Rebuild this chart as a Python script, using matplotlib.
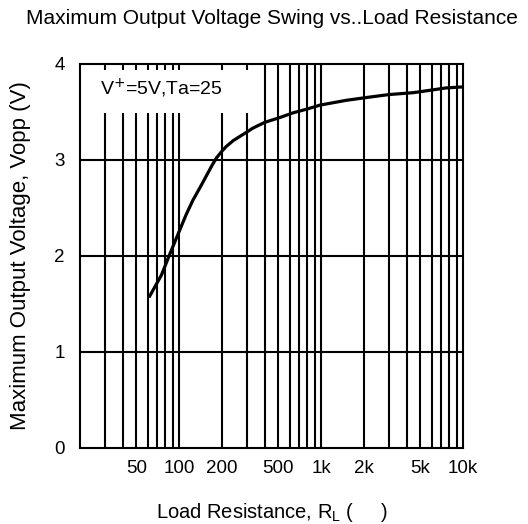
import matplotlib
matplotlib.use('Agg')
import matplotlib.pyplot as plt
from matplotlib.patches import Rectangle
from matplotlib.ticker import FixedLocator, NullFormatter

plt.rcParams['font.family'] = ['Liberation Sans', 'DejaVu Sans']

# curve (load resistance in ohms, output swing in V)
r_load = [62, 75, 86, 101, 112, 125, 140, 155, 170, 183, 200, 215, 240, 265,
          300, 330, 400, 510, 635, 800, 980, 1500, 2100, 3000, 4470, 7660, 10000]
v_opp = [1.58, 1.80, 2.02, 2.27, 2.43, 2.58, 2.71, 2.83, 2.94, 3.02, 3.09, 3.14,
         3.20, 3.24, 3.29, 3.33, 3.39, 3.44, 3.49, 3.53, 3.57, 3.62, 3.65, 3.68,
         3.70, 3.75, 3.76]

x_ticks = [50, 100, 200, 500, 1000, 2000, 5000, 10000]
x_ticklabels = ['50', '100', '200', '500', '1k', '2k', '5k', '10k']
x_grid = [30, 40, 50, 60, 70, 80, 90,
          100, 200, 300, 400, 500, 600, 700, 800, 900,
          1000, 2000, 3000, 4000, 5000, 6000, 7000, 8000, 9000]
y_ticks = [0, 1, 2, 3, 4]

fig = plt.figure(figsize=(5.28, 5.24), dpi=100)
ax = fig.add_axes([0.1515, 0.1456, 0.7255, 0.7325])

ax.set_xscale('log')
ax.set_xlim(20, 10000)
ax.set_ylim(0, 4)

# grid drawn by hand so every decade line shows
for gx in x_grid:
    ax.axvline(gx, color='black', lw=1.5, zorder=1)
for gy in y_ticks[1:-1]:
    ax.axhline(gy, color='black', lw=1.5, zorder=1)

ax.xaxis.set_major_locator(FixedLocator(x_ticks))
ax.set_xticklabels(x_ticklabels)
ax.xaxis.set_minor_formatter(NullFormatter())
ax.xaxis.set_minor_locator(FixedLocator([]))
ax.set_yticks(y_ticks)
ax.tick_params(length=0, labelsize=13.5, colors='black')
ax.tick_params(axis='x', pad=9)
ax.tick_params(axis='y', pad=11)

for sp in ax.spines.values():
    sp.set_linewidth(1.5)

# white box behind the condition text
ax.add_patch(Rectangle((0.004, 0.872), 0.466, 0.112, transform=ax.transAxes,
                       facecolor='white', edgecolor='none', zorder=2))
ax.text(0.052, 0.935, r'V$^{+}$=5V,Ta=25', transform=ax.transAxes,
        fontsize=14, va='center', ha='left', zorder=3)

ax.plot(r_load, v_opp, color='black', lw=2.3, zorder=4, solid_joinstyle='round')

ax.set_title('Maximum Output Voltage Swing vs..Load Resistance', fontsize=15, pad=29)
ax.set_xlabel(r'Load Resistance, R$\mathregular{_L}$ (     )', fontsize=14.5, labelpad=17)
ax.set_ylabel('Maximum Output Voltage, Vopp (V)', fontsize=16, labelpad=17)

fig.savefig('out.png', dpi=100)
